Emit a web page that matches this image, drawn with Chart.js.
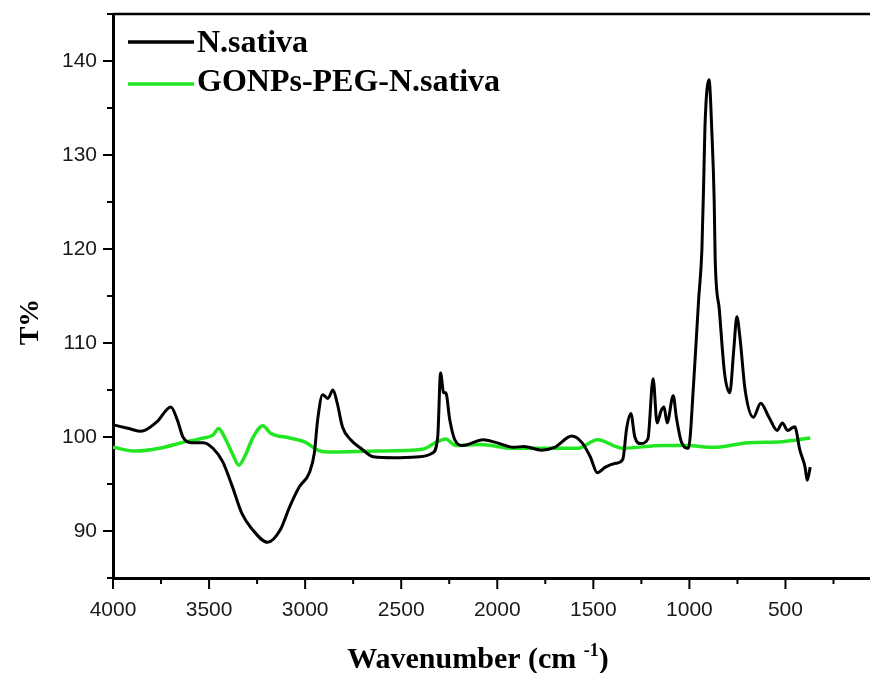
<!DOCTYPE html>
<html>
<head>
<meta charset="utf-8">
<script src="https://cdn.jsdelivr.net/npm/chart.js@4.4.1/dist/chart.umd.min.js"></script>
<style>
  body { margin: 0; background: #fff; }
</style>
</head>
<body>
<canvas id="ftirChart" width="870" height="673"></canvas>
<script>
// N.sativa spectrum (wavenumber, T%)
const nsWave = [4000, 3960, 3917, 3854, 3772, 3699, 3665, 3636, 3592, 3529, 3480, 3430, 3380, 3330, 3280, 3195,
  3130, 3080, 3030, 2978, 2952, 2935, 2909, 2882, 2855, 2833, 2806, 2763, 2710, 2645, 2532, 2405, 2337, 2310,
  2295, 2279, 2268, 2247, 2221, 2179, 2074, 2005, 1915, 1862, 1771, 1702, 1612, 1559, 1516, 1479, 1437, 1384,
  1347, 1326, 1305, 1284, 1253, 1216, 1189, 1168, 1147, 1132, 1116, 1084, 1068, 1042, 1005, 978, 952, 935,
  925, 919, 898, 882, 871, 866, 844, 817, 790, 769, 753, 737, 710, 667, 629, 586, 543, 516, 489, 452, 425,
  398, 387, 371];
const nsT = [101.3, 101.1, 100.9, 100.6, 101.6, 103.2, 101.8, 100.0, 99.4, 99.4, 98.8, 97.4, 94.8, 91.9, 90.3, 88.8,
  90.1, 92.6, 94.7, 96.2, 98.3, 101.8, 104.5, 104.1, 105.0, 103.6, 101.1, 99.7, 98.8, 97.9, 97.8, 97.9, 98.3, 100.0,
  106.8, 104.7, 104.7, 101.8, 99.7, 99.1, 99.7, 99.4, 98.9, 99.0, 98.6, 98.9, 100.1, 99.4, 97.9, 96.2, 96.8, 97.2,
  97.6, 101.0, 102.5, 100.0, 99.3, 99.8, 106.2, 101.5, 102.8, 103.2, 101.5, 104.4, 102.1, 99.5, 98.8, 105.7, 114.6, 119.9,
  127.7, 133.0, 138.0, 131.9, 125.2, 119.1, 113.5, 106.8, 104.7, 109.3, 112.8, 110.6, 105.0, 102.1, 103.6, 102.1, 100.7, 101.5, 100.7, 101.1, 98.6,
  96.8, 95.4, 96.8];

// GONPs-PEG-N.sativa spectrum
const gpWave = [4000, 3883, 3757, 3641, 3529, 3480, 3450, 3420, 3380, 3345, 3315, 3270, 3220, 3180, 3080, 2995,
  2935, 2888, 2624, 2389, 2321, 2268, 2216, 2089, 1915, 1755, 1580, 1479, 1347, 1137, 1016, 871, 694, 516, 371];
const gpT = [98.9, 98.5, 98.8, 99.4, 99.9, 100.2, 100.9, 100.0, 98.3, 97.0, 97.9, 100.0, 101.2, 100.4, 99.9, 99.4,
  98.6, 98.4, 98.5, 98.7, 99.4, 99.8, 99.1, 99.2, 98.8, 98.8, 98.8, 99.7, 98.8, 99.1, 99.1, 98.9, 99.4, 99.5, 99.9];

const seriesNames = ['N.sativa', 'GONPs-PEG-N.sativa'];
const seriesColors = ['#000000', '#22e622'];
const xTicks = [4000, 3500, 3000, 2500, 2000, 1500, 1000, 500];
const yTicks = [90, 100, 110, 120, 130, 140];

function pairs(xs, ys) {
  return xs.map((x, i) => ({ x: x, y: ys[i] }));
}

// tick marks, frame, legend and axis titles
const decorations = {
  id: 'decorations',
  afterDraw(chart) {
    const ctx = chart.ctx;
    const area = chart.chartArea;
    const xs = chart.scales.x, ys = chart.scales.y;
    ctx.save();
    ctx.strokeStyle = '#000';
    ctx.lineWidth = 2.5;
    // top frame line
    ctx.beginPath();
    ctx.moveTo(area.left, area.top);
    ctx.lineTo(area.right, area.top);
    ctx.stroke();
    // tick marks
    ctx.lineWidth = 2;
    xs.ticks.forEach(t => {
      const px = xs.getPixelForValue(t.value);
      const len = xTicks.includes(t.value) ? 11 : 6;
      ctx.beginPath();
      ctx.moveTo(px, area.bottom);
      ctx.lineTo(px, area.bottom + len);
      ctx.stroke();
    });
    ys.ticks.forEach(t => {
      const py = ys.getPixelForValue(t.value);
      const len = yTicks.includes(t.value) ? 10 : 6;
      ctx.beginPath();
      ctx.moveTo(area.left, py);
      ctx.lineTo(area.left - len, py);
      ctx.stroke();
    });

    // legend
    ctx.font = 'bold 32px "Liberation Serif", "Times New Roman", serif';
    ctx.textBaseline = 'alphabetic';
    ctx.textAlign = 'left';
    const rows = [{ ly: 42, by: 52 }, { ly: 84, by: 91 }];
    chart.data.datasets.forEach((ds, i) => {
      ctx.strokeStyle = ds.borderColor;
      ctx.lineWidth = 3.5;
      ctx.beginPath();
      ctx.moveTo(128, rows[i].ly);
      ctx.lineTo(194, rows[i].ly);
      ctx.stroke();
      ctx.fillStyle = '#000';
      ctx.fillText(ds.label, 197, rows[i].by);
    });

    // y title
    ctx.save();
    ctx.translate(31, 322);
    ctx.rotate(-Math.PI / 2);
    ctx.font = 'bold 28px "Liberation Serif", "Times New Roman", serif';
    ctx.textAlign = 'center';
    ctx.textBaseline = 'middle';
    ctx.fillText('T%', 0, 0);
    ctx.restore();

    // x title with superscript
    const mainFont = 'bold 30px "Liberation Serif", "Times New Roman", serif';
    const supFont = 'bold 18px "Liberation Serif", "Times New Roman", serif';
    const p1 = 'Wavenumber (cm ', p2 = '-1', p3 = ')';
    ctx.font = mainFont;
    const w1 = ctx.measureText(p1).width, w3 = ctx.measureText(p3).width;
    ctx.font = supFont;
    const w2 = ctx.measureText(p2).width;
    let x0 = 478 - (w1 + w2 + w3) / 2;
    const base = 668;
    ctx.textAlign = 'left';
    ctx.fillStyle = '#000';
    ctx.font = mainFont;
    ctx.fillText(p1, x0, base);
    ctx.font = supFont;
    ctx.fillText(p2, x0 + w1, base - 12);
    ctx.font = mainFont;
    ctx.fillText(p3, x0 + w1 + w2, base);
    ctx.restore();
  }
};

const ctx = document.getElementById('ftirChart').getContext('2d');
new Chart(ctx, {
  type: 'line',
  data: {
    datasets: [
      {
        label: seriesNames[0],
        data: pairs(nsWave, nsT),
        borderColor: seriesColors[0],
        borderWidth: 3,
        pointRadius: 0,
        fill: false,
        cubicInterpolationMode: 'monotone'
      },
      {
        label: seriesNames[1],
        data: pairs(gpWave, gpT),
        borderColor: seriesColors[1],
        borderWidth: 3.5,
        pointRadius: 0,
        fill: false,
        cubicInterpolationMode: 'monotone'
      }
    ]
  },
  options: {
    responsive: false,
    devicePixelRatio: 1,
    animation: false,
    layout: { padding: { top: 14, left: 0, right: 0, bottom: 0 } },
    plugins: {
      legend: { display: false },
      tooltip: { enabled: false }
    },
    scales: {
      x: {
        type: 'linear',
        reverse: true,
        min: 60,
        max: 4000,
        afterBuildTicks(scale) {
          const t = [];
          for (let v = 4000; v >= 250; v -= 250) t.push({ value: v });
          scale.ticks = t;
        },
        afterFit(scale) {
          scale.height = 95;
          scale.paddingLeft = 0;
          scale.paddingRight = 0;
        },
        grid: { display: false },
        border: { display: true, color: '#000', width: 3 },
        ticks: {
          autoSkip: false,
          maxRotation: 0,
          padding: 12,
          color: '#1a1a1a',
          font: { family: '"Liberation Sans", Arial, sans-serif', size: 21 },
          callback: v => (xTicks.includes(v) ? String(v) : '')
        }
      },
      y: {
        type: 'linear',
        min: 85,
        max: 145,
        afterBuildTicks(scale) {
          const t = [];
          for (let v = 85; v <= 145; v += 5) t.push({ value: v });
          scale.ticks = t;
        },
        afterFit(scale) {
          scale.width = 113;
          scale.paddingTop = 0;
          scale.paddingBottom = 0;
        },
        grid: { display: false },
        border: { display: true, color: '#000', width: 3 },
        ticks: {
          autoSkip: false,
          padding: 8,
          color: '#1a1a1a',
          font: { family: '"Liberation Sans", Arial, sans-serif', size: 21 },
          callback: v => (yTicks.includes(v) ? String(v) : '')
        }
      }
    }
  },
  plugins: [decorations]
});
</script>
</body>
</html>
